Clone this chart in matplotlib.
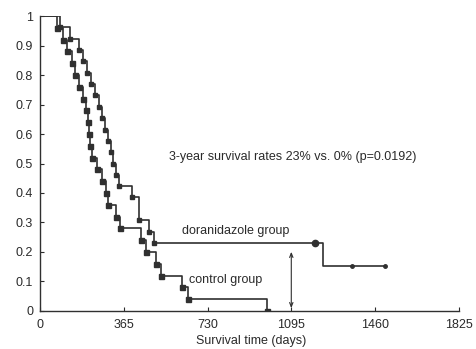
import matplotlib
matplotlib.use("Agg")
import matplotlib.pyplot as plt

# Kaplan-Meier curves (days, survival after each step)
dora_days = [0, 85, 130, 170, 188, 205, 222, 240, 258, 272, 285, 297, 308, 318, 330, 345, 400, 432, 476, 497, 1233]
dora_surv = [1.0, 0.962, 0.923, 0.885, 0.846, 0.808, 0.769, 0.731, 0.692, 0.654, 0.615, 0.577, 0.538, 0.5, 0.462, 0.423, 0.385, 0.308, 0.269, 0.231, 0.154]
dora_end = 1505
dora_censor_days = [1198, 1358, 1505]
dora_censor_surv = [0.231, 0.154, 0.154]

ctrl_days = [0, 74, 100, 117, 138, 151, 168, 186, 202, 207, 212, 218, 225, 250, 270, 288, 298, 332, 349, 440, 460, 505, 525, 618, 643, 988]
ctrl_surv = [1.0, 0.96, 0.92, 0.88, 0.84, 0.80, 0.76, 0.72, 0.68, 0.64, 0.60, 0.56, 0.52, 0.48, 0.44, 0.40, 0.36, 0.32, 0.28, 0.24, 0.20, 0.16, 0.12, 0.08, 0.04, 0.0]

x_ticks = [0, 365, 730, 1095, 1460, 1825]
y_ticks = [0, 0.1, 0.2, 0.3, 0.4, 0.5, 0.6, 0.7, 0.8, 0.9, 1]
y_labels = ["0", "0.1", "0.2", "0.3", "0.4", "0.5", "0.6", "0.7", "0.8", "0.9", "1"]

plt.rcParams['font.family'] = ['Liberation Sans', 'DejaVu Sans']
line_col = '#303030'
text_col = '#2a2a2a'

fig = plt.figure(figsize=(4.77, 3.49), dpi=100)
ax = fig.add_axes([0.084, 0.109, 0.885, 0.845])

# doranidazole group
ax.step(dora_days + [dora_end], dora_surv + [dora_surv[-1]], where='post',
        color=line_col, linewidth=1.2)
ax.plot(dora_days[1:-1], dora_surv[1:-1], 's', color=line_col, markersize=3)
ax.plot(dora_censor_days[:1], dora_censor_surv[:1], 'o', color=line_col, markersize=4.5)
ax.plot(dora_censor_days[1:], dora_censor_surv[1:], 'o', color=line_col, markersize=2.5)

# control group
ax.step(ctrl_days, ctrl_surv, where='post', color=line_col, linewidth=1.2)
ax.plot(ctrl_days[1:], ctrl_surv[1:], 's', color=line_col, markersize=3.6)

# 3-year marker
ax.annotate('', xy=(1095, 0.0), xytext=(1095, 0.21),
            arrowprops=dict(arrowstyle='<->,head_length=0.3,head_width=0.12',
                            color=line_col, linewidth=0.8))

ax.text(562, 0.522, '3-year survival rates 23% vs. 0% (p=0.0192)', fontsize=9,
        color=text_col, va='center')
ax.text(618, 0.271, 'doranidazole group', fontsize=9, color=text_col, va='center')
ax.text(650, 0.105, 'control group', fontsize=9, color=text_col, va='center')

ax.set_xlim(0, 1840)
ax.set_ylim(0, 1.0)
ax.set_xticks(x_ticks)
ax.set_yticks(y_ticks)
ax.set_yticklabels(y_labels)
ax.tick_params(direction='in', length=3, labelsize=9, colors=text_col)
ax.tick_params(axis='x', pad=6)
ax.tick_params(axis='y', pad=5)
ax.set_xlabel('Survival time (days)', fontsize=9, color=text_col, labelpad=3)

for side in ['top', 'right']:
    ax.spines[side].set_visible(False)
for side in ['left', 'bottom']:
    ax.spines[side].set_color(line_col)
    ax.spines[side].set_linewidth(1.0)
ax.spines['bottom'].set_bounds(0, 1825)

fig.savefig('out.png', dpi=100)
